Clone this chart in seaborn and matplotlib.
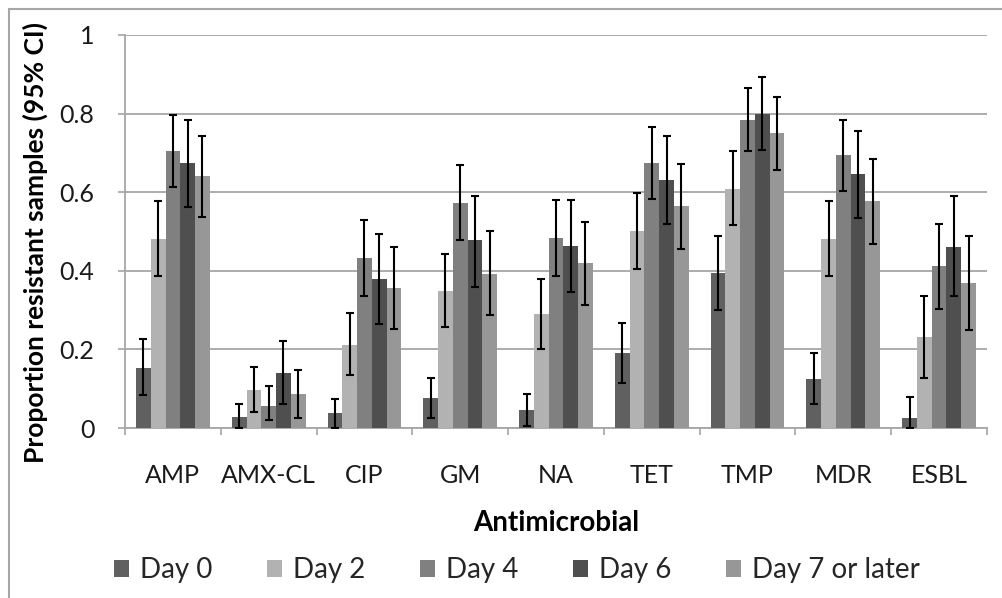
import matplotlib
matplotlib.use("Agg")
import matplotlib.pyplot as plt
from matplotlib.patches import Rectangle
import numpy as np
import pandas as pd
import seaborn as sns

# Antimicrobials and sampling days
drugs = ["AMP", "AMX-CL", "CIP", "GM", "NA", "TET", "TMP", "MDR", "ESBL"]
days = ["Day 0", "Day 2", "Day 4", "Day 6", "Day 7 or later"]

# Proportion of resistant samples per day
day0 = [0.152, 0.027, 0.038, 0.077, 0.046, 0.192, 0.395, 0.124, 0.026]
day2 = [0.482, 0.097, 0.211, 0.349, 0.290, 0.501, 0.607, 0.482, 0.231]
day4 = [0.706, 0.057, 0.432, 0.573, 0.483, 0.674, 0.784, 0.694, 0.411]
day6 = [0.675, 0.141, 0.380, 0.478, 0.462, 0.631, 0.800, 0.647, 0.461]
day7 = [0.640, 0.086, 0.357, 0.392, 0.419, 0.565, 0.750, 0.577, 0.368]

# 95% confidence limits (lower, upper)
lo0 = [0.084, 0.000, 0.000, 0.025, 0.005, 0.115, 0.300, 0.060, 0.000]
hi0 = [0.226, 0.061, 0.075, 0.126, 0.087, 0.268, 0.489, 0.190, 0.079]
lo2 = [0.386, 0.041, 0.135, 0.257, 0.201, 0.405, 0.516, 0.386, 0.127]
hi2 = [0.578, 0.155, 0.292, 0.442, 0.378, 0.598, 0.705, 0.578, 0.335]
lo4 = [0.614, 0.020, 0.336, 0.478, 0.386, 0.583, 0.704, 0.602, 0.304]
hi4 = [0.796, 0.108, 0.528, 0.669, 0.579, 0.767, 0.865, 0.783, 0.520]
lo6 = [0.563, 0.061, 0.265, 0.360, 0.347, 0.520, 0.708, 0.535, 0.336]
hi6 = [0.783, 0.221, 0.493, 0.590, 0.579, 0.743, 0.893, 0.756, 0.590]
lo7 = [0.536, 0.025, 0.253, 0.288, 0.312, 0.456, 0.657, 0.469, 0.249]
hi7 = [0.743, 0.147, 0.461, 0.501, 0.524, 0.673, 0.841, 0.684, 0.489]

y_ticks = [0, 0.2, 0.4, 0.6, 0.8, 1]
y_tick_labels = ["0", "0.2", "0.4", "0.6", "0.8", "1"]

colors = ["#606060", "#b2b2b2", "#808080", "#4f4f4f", "#979797"]

values = [day0, day2, day4, day6, day7]
lows = [lo0, lo2, lo4, lo6, lo7]
highs = [hi0, hi2, hi4, hi6, hi7]

df = pd.DataFrame({
    "Antimicrobial": np.tile(drugs, len(days)),
    "Day": np.repeat(days, len(drugs)),
    "Proportion": np.concatenate(values),
})

sns.set_theme(style="white")
plt.rcParams["font.family"] = ["Lato", "DejaVu Sans"]

W, H = 1002, 598
fig = plt.figure(figsize=(W / 100, H / 100), dpi=100)
ax = fig.add_axes([125 / W, 1 - 428 / H, (987 - 125) / W, (428 - 35) / H])

sns.barplot(data=df, x="Antimicrobial", y="Proportion", hue="Day",
            order=drugs, hue_order=days, palette=colors, saturation=1,
            width=0.77, gap=0, errorbar=None, linewidth=0, ax=ax, zorder=3)

# Confidence interval whiskers on each bar
for cont, v, lo, hi in zip(ax.containers, values, lows, highs):
    xs = [p.get_x() + p.get_width() / 2 for p in cont.patches]
    v = np.array(v)
    yerr = np.vstack([v - np.array(lo), np.array(hi) - v])
    ax.errorbar(xs, v, yerr=yerr, fmt="none", ecolor="black",
                elinewidth=1.5, capsize=3, capthick=1.5, zorder=4)

ax.set_xlim(-0.5, len(drugs) - 0.5)
ax.set_ylim(0, 1)
ax.set_yticks(y_ticks)
ax.set_yticklabels(y_tick_labels)
ax.yaxis.grid(True, color="#a6a6a6", linewidth=1.3, zorder=0)
ax.set_axisbelow(True)

ax.set_xticks(range(len(drugs)))
ax.set_xticklabels(drugs)
ax.set_xticks(np.arange(-0.5, len(drugs)), minor=True)
ax.tick_params(axis="x", which="major", length=0, pad=26, labelsize=18,
               labelcolor="#1a1a1a")
ax.tick_params(axis="x", which="minor", length=5, width=1.2,
               color="#a6a6a6", direction="out", bottom=True)
ax.tick_params(axis="y", length=5, width=1.2, color="#a6a6a6",
               direction="out", left=True, pad=17, labelsize=18,
               labelcolor="#1a1a1a")

for side in ("top", "right"):
    ax.spines[side].set_visible(False)
for side in ("left", "bottom"):
    ax.spines[side].set_color("#a6a6a6")
    ax.spines[side].set_linewidth(1.3)

ax.set_xlabel("Antimicrobial", fontsize=20, fontweight="bold", color="black")
ax.set_ylabel("Proportion resistant samples (95% CI)", fontsize=19,
              fontweight="bold", color="black")
ax.xaxis.set_label_coords(0.5, -0.208)
ax.yaxis.set_label_coords(-0.089, 0.473)

sns.move_legend(ax, "center", bbox_to_anchor=(517 / W, 1 - 570 / H),
                bbox_transform=fig.transFigure, ncol=5, frameon=False,
                title=None, fontsize=20, handlelength=0.55, handleheight=0.55,
                handletextpad=0.4, columnspacing=1.95)

# Outer frame of the chart area (display coords, open past the right/bottom edge)
fig.patches.append(Rectangle((9, -10), W, H - 9 + 10, transform=None,
                             fill=False, edgecolor="#a6a6a6", linewidth=1.5))

fig.savefig("out.png", dpi=100)
